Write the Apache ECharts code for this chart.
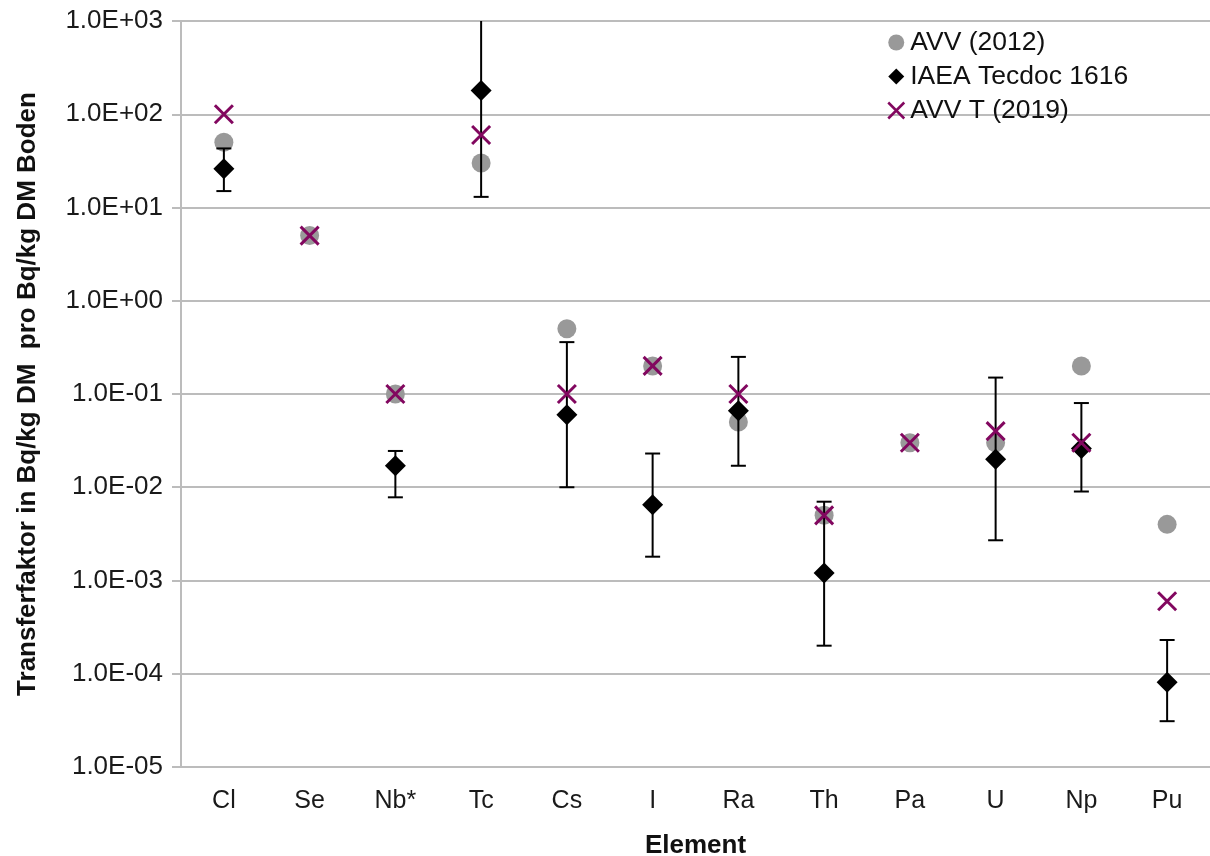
<!DOCTYPE html>
<html>
<head>
<meta charset="utf-8">
<title>Transferfaktoren</title>
<script src="https://cdn.jsdelivr.net/npm/echarts@6/dist/echarts.min.js"></script>
<style>
  html, body { margin: 0; padding: 0; background: #ffffff; }
  #chart { width: 1210px; height: 856px; }
</style>
</head>
<body>
<div id="chart"></div>
<script>
// Elements on the category axis
const categories = ['Cl', 'Se', 'Nb*', 'Tc', 'Cs', 'I', 'Ra', 'Th', 'Pa', 'U', 'Np', 'Pu'];

// Transfer factors (Bq/kg DM per Bq/kg DM soil)
const avv2012 = [50, 5, 0.1, 30, 0.5, 0.2, 0.05, 0.005, 0.03, 0.03, 0.2, 0.004];
const iaea1616 = [26, null, 0.017, 180, 0.06, 0.0065, 0.066, 0.0012, null, 0.02, 0.026, 0.000081];
const iaeaLow = [15, null, 0.0078, 13, 0.01, 0.0018, 0.017, 0.0002, null, 0.0027, 0.009, 0.000031];
const iaeaHigh = [43, null, 0.0245, 2000, 0.36, 0.023, 0.25, 0.007, null, 0.15, 0.08, 0.00023];
const avvT2019 = [100, 5, 0.1, 60, 0.1, 0.2, 0.1, 0.005, 0.03, 0.04, 0.03, 0.0006];

const seriesNames = ['AVV (2012)', 'IAEA Tecdoc 1616', 'AVV T (2019)'];

const FONT = '"Liberation Sans", Arial, sans-serif';
const GRAY = '#999999';
const PURPLE = '#82075f';
const GRID_COLOR = '#bcbcbc';
const X_PATH = 'path://M0,0L10,10M10,0L0,10';

function pairs(values) {
  return values.map((v, i) => (v == null ? [i, null] : [i, v]));
}

const errorData = [];
iaeaLow.forEach((lo, i) => {
  if (lo != null && iaeaHigh[i] != null) errorData.push([i, lo, iaeaHigh[i]]);
});

function sciLabel(v) {
  const e = Math.round(Math.log10(v));
  const m = v / Math.pow(10, e);
  const sign = e < 0 ? '-' : '+';
  const ae = Math.abs(e);
  return m.toFixed(1) + 'E' + sign + (ae < 10 ? '0' + ae : '' + ae);
}

const chart = echarts.init(document.getElementById('chart'), null, { renderer: 'canvas' });

chart.setOption({
  backgroundColor: '#ffffff',
  animation: false,
  textStyle: { fontFamily: FONT },
  grid: { left: 181, right: 0, top: 21, bottom: 89, containLabel: false, outerBoundsMode: 'none' },
  legend: {
    orient: 'vertical',
    left: 882,
    top: 24,
    itemWidth: 16,
    itemHeight: 16,
    itemGap: 7,
    textStyle: { fontFamily: FONT, fontSize: 26.5, color: '#111111', padding: [0, 0, 0, 1] },
    data: [
      { name: seriesNames[0], icon: 'circle', itemStyle: { color: GRAY, opacity: 1 } },
      { name: seriesNames[1], icon: 'diamond', itemStyle: { color: '#000000', opacity: 1 } },
      { name: seriesNames[2], icon: X_PATH,
        itemStyle: { color: 'transparent', borderColor: PURPLE, borderWidth: 2.5, opacity: 1 } }
    ]
  },
  xAxis: {
    type: 'category',
    data: categories,
    boundaryGap: true,
    name: 'Element',
    nameLocation: 'middle',
    nameGap: 66,
    nameTextStyle: { fontFamily: FONT, fontSize: 26, fontWeight: 'bold', color: '#111111' },
    axisLine: { show: true, lineStyle: { color: GRID_COLOR, width: 2 } },
    axisTick: { show: false },
    axisLabel: { fontFamily: FONT, fontSize: 25, color: '#1a1a1a', margin: 22 },
    splitLine: { show: false }
  },
  yAxis: {
    type: 'log',
    logBase: 10,
    min: 1e-5,
    max: 1e3,
    interval: 1,
    name: 'Transferfaktor in Bq/kg DM  pro Bq/kg DM Boden',
    nameLocation: 'middle',
    nameGap: 140,
    nameTextStyle: { fontFamily: FONT, fontSize: 26, fontWeight: 'bold', color: '#111111' },
    axisLine: { show: true, lineStyle: { color: GRID_COLOR, width: 2 } },
    axisTick: { show: true, length: 9, lineStyle: { color: GRID_COLOR, width: 2 } },
    axisLabel: { fontFamily: FONT, fontSize: 26, color: '#1a1a1a', margin: 18, formatter: sciLabel },
    splitLine: { show: true, lineStyle: { color: GRID_COLOR, width: 2 } },
    minorTick: { show: false }
  },
  series: [
    {
      name: seriesNames[0],
      type: 'scatter',
      data: pairs(avv2012),
      symbol: 'circle',
      symbolSize: 19,
      itemStyle: { color: GRAY, opacity: 1 },
      z: 2
    },
    {
      name: 'IAEA range',
      type: 'custom',
      data: errorData,
      clip: true,
      z: 3,
      silent: true,
      renderItem: function (params, api) {
        const i = api.value(0);
        const lo = api.coord([i, api.value(1)]);
        const hi = api.coord([i, api.value(2)]);
        const half = 7.5;
        const style = { stroke: '#000000', lineWidth: 2 };
        return {
          type: 'group',
          children: [
            { type: 'line', shape: { x1: lo[0], y1: lo[1], x2: hi[0], y2: hi[1] }, style: style },
            { type: 'line', shape: { x1: lo[0] - half, y1: lo[1], x2: lo[0] + half, y2: lo[1] }, style: style },
            { type: 'line', shape: { x1: hi[0] - half, y1: hi[1], x2: hi[0] + half, y2: hi[1] }, style: style }
          ]
        };
      }
    },
    {
      name: seriesNames[1],
      type: 'scatter',
      data: pairs(iaea1616),
      symbol: 'diamond',
      symbolSize: 21,
      itemStyle: { color: '#000000', opacity: 1 },
      z: 4
    },
    {
      name: seriesNames[2],
      type: 'scatter',
      data: pairs(avvT2019),
      symbol: X_PATH,
      symbolSize: 18,
      itemStyle: { color: 'transparent', borderColor: PURPLE, borderWidth: 3, opacity: 1 },
      z: 5
    }
  ]
});
</script>
</body>
</html>
